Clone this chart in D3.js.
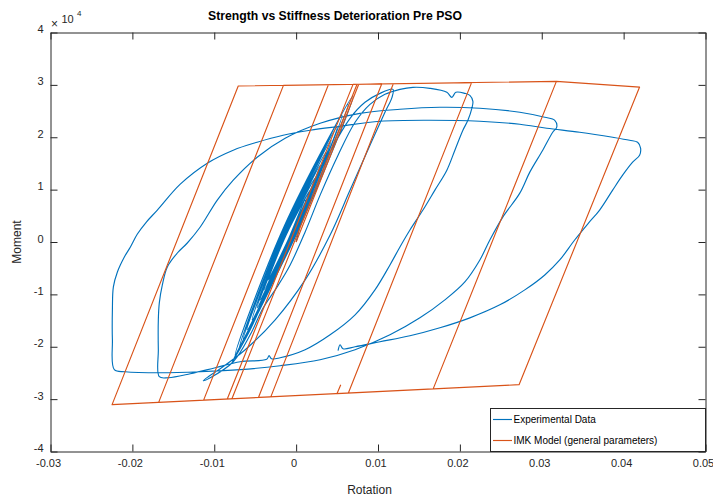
<!DOCTYPE html>
<html><head><meta charset="utf-8">
<script src="https://cdn.jsdelivr.net/npm/d3@7"></script>
<style>
body{margin:0;background:#fff}
text{font-family:"Liberation Sans",Arial,Helvetica,sans-serif}
</style>
</head><body>
<svg id="c" width="713" height="498"></svg>
<script>
// ---------- tick values ----------
const xTicks = [-0.03,-0.02,-0.01,0,0.01,0.02,0.03,0.04,0.05];
const yTicks = [-40000,-30000,-20000,-10000,0,10000,20000,30000,40000];
const seriesNames = ["Experimental Data","IMK Model (general parameters)"];

// ---------- Experimental data [rotation, moment] ----------
const expElastic = [
 [0,0],[0.00110,8000],[-0.00098,380],[-0.00341,-7240],[-0.00122,1330],[0.00171,9910],
 [-0.00098,380],[-0.00390,-9140],[-0.00127,1520],[0.00232,12190],[-0.00082,570],[-0.00439,-11050],
 [-0.00118,1810],[0.00293,14670],[-0.00067,1050],[-0.00476,-12570],[-0.00117,2290],[0.00366,17150],
 [-0.00052,1140],[-0.00537,-14860],[-0.00129,2290],[0.00427,19430],[-0.00035,1330],[-0.00598,-16760],
 [-0.00133,2570],[0.00500,21910],[-0.00015,1620],[-0.00646,-18670],[-0.00128,2760],[0.00561,24190],
 [-0.00006,1910],[-0.00695,-20380],[-0.00134,2950],[0.00634,26290],[0.00017,2290],[-0.00744,-21720],
 [-0.00144,3050],[0.00695,27810],[0.00034,2480],[-0.00780,-22860]
];
const expCycle1 = [
 [-0.00561,-16760],[-0.00317,-8190],[-0.00073,380],[0.00171,8950],[0.00415,17150],[0.00659,23620],
 [0.00841,26670],[0.01024,28380],[0.01183,29150],[0.01171,27620],[0.01085,24770],[0.00902,18480],
 [0.00659,9910],[0.00415,1330],[0.00110,-7240],[-0.00256,-14860],[-0.00622,-20570],[-0.00927,-24190],
 [-0.01073,-25720],[-0.01134,-26480]
];
const expCycle2 = [
 [-0.01049,-25910],[-0.00768,-22860],[-0.00561,-17720],[-0.00402,-12570],[-0.00232,-8570],[-0.00073,-4380],
 [0.00110,1910],[0.00293,8950],[0.00512,16570],[0.00720,22860],[0.00902,26290],[0.01085,28190],
 [0.01268,29150],[0.01427,29530],[0.01634,29340],[0.01841,28580],[0.01902,27620],[0.01951,28580],
 [0.02061,28380],[0.02122,28000],[0.02159,26860],[0.02146,25530],[0.02098,23240],[0.02037,21340],
 [0.01939,17530],[0.01841,13720],[0.01695,9910],[0.01549,6100],[0.01390,2290],[0.01268,-950],
 [0.01146,-4380],[0.00963,-9140],[0.00720,-13910],[0.00415,-17720],[0.00110,-20570],[-0.00195,-22100],
 [-0.00300,-22300],[-0.00330,-21700],[-0.00360,-22400],
 [-0.00683,-22860],[-0.00988,-24000],[-0.01293,-25150],[-0.01561,-25910],[-0.01671,-25720]
];
const expCycle3 = [
 [-0.01683,-20570],[-0.01683,-14860],[-0.01671,-11620],[-0.01634,-8190],[-0.01573,-4760],[-0.01451,-2100],
 [-0.01329,-190],[-0.01171,2860],[-0.00963,8000],[-0.00768,11810],[-0.00476,16190],[-0.00134,19810],
 [0.00293,22670],[0.00780,24570],[0.01268,25340],[0.01756,25720],[0.02244,25530],[0.02732,24770],
 [0.03037,23810],[0.03159,23240],[0.03183,21910],[0.03134,20960],[0.03012,17530],[0.02854,13340],
 [0.02732,9330],[0.02524,4760],[0.02366,380],[0.02244,-3430],[0.02061,-7620],[0.01817,-11050],
 [0.01512,-14480],[0.01146,-17720],[0.00720,-20570],[0.00293,-22480],[-0.00195,-23620],[-0.00683,-24380],
 [-0.01171,-24770],[-0.01659,-24960],[-0.02085,-24770],[-0.02220,-24380]
];
const expCycle4 = [
 [-0.02244,-18670],[-0.02244,-12950],[-0.02232,-8570],[-0.02183,-5720],[-0.02098,-2860],[-0.02024,-950],
 [-0.01939,1520],[-0.01829,3810],[-0.01695,6100],[-0.01415,11050],[-0.01085,15050],[-0.00768,17530],
 [-0.00476,19050],[-0.00159,20380],[0.00171,21340],[0.00537,22100],[0.01024,23050],[0.01634,23240],
 [0.02244,23050],[0.02732,22480],[0.03061,21720],[0.03463,20960],[0.03866,20000],[0.04073,19430],
 [0.04171,19050],[0.04207,17910],[0.04195,16570],[0.04110,15240],[0.03988,12760],[0.03866,9910],
 [0.03707,6100],[0.03561,3430],[0.03402,380],[0.03220,-3430],[0.03037,-6290],[0.02793,-9140],
 [0.02488,-12000],[0.02122,-14480],[0.01756,-16380],[0.01390,-17910],[0.01024,-19050],[0.00720,-20000],
 [0.00573,-20380],[0.00537,-19620],[0.00512,-20760]
];

// ---------- IMK model vertices [rotation, moment] ----------
const imkModel = [
 [0,0],[0.00765,30117],[0.01045,30181],[-0.00460,-29680],[-0.00784,-29928],[0.00744,30112],
 [0.01187,30214],[-0.00309,-29564],[-0.00841,-29972],[0.00695,30101],[0.01187,30214],[-0.00309,-29564],
 [-0.01130,-30193],[0.00394,30032],[0.02143,30433],[0.00638,-28838],[-0.01679,-30614],[-0.00155,29906],
 [0.03179,30670],[0.01674,-28044],[-0.02248,-31050],[-0.00707,29780],[0.03179,30670],[0.04195,29580],
 [0.02723,-27240],[0.00500,-28944],[0.00545,-27240]
];

const expData = [].concat(expElastic, expCycle1, expCycle2, expCycle3, expCycle4);

// ---------- drawing ----------
const W = 713, H = 498;
const svg = d3.select("#c");
svg.append("rect").attr("width",W).attr("height",H).attr("fill","#fff");

const x = d3.scaleLinear().domain([-0.03,0.05]).range([50.5,705.5]);
const y = d3.scaleLinear().domain([-40000,40000]).range([451.5,32.5]);

svg.append("clipPath").attr("id","clip").append("rect")
  .attr("x",50.5).attr("y",32.5).attr("width",655).attr("height",419);

const plot = svg.append("g").attr("clip-path","url(#clip)");
const blueLine = d3.line().x(d=>x(d[0])).y(d=>y(d[1])).curve(d3.curveCatmullRom.alpha(0.5));
const redLine = d3.line().x(d=>x(d[0])).y(d=>y(d[1]));

plot.append("path").datum(expData).attr("d",blueLine)
  .attr("fill","none").attr("stroke","#0072BD").attr("stroke-width",1.15)
  .attr("stroke-linejoin","round");
plot.append("path").datum(imkModel).attr("d",redLine)
  .attr("fill","none").attr("stroke","#D95319").attr("stroke-width",1.15)
  .attr("stroke-linejoin","round");

const axCol = "#262626";
const fmtX = d => d===0 ? "0" : String(+d.toFixed(2));
const fmtY = d => String(d/1e4);

function styleAxis(g){
  g.attr("font-size",11).attr("font-family",'"Liberation Sans",Arial,sans-serif');
  g.select(".domain").attr("stroke",axCol);
  g.selectAll(".tick line").attr("stroke",axCol);
  g.selectAll(".tick text").attr("fill",axCol);
}
const gx = svg.append("g").attr("transform","translate(0,451.5)")
  .call(d3.axisBottom(x).tickValues(xTicks).tickSize(-7).tickSizeOuter(0).tickPadding(8).tickFormat(fmtX));
styleAxis(gx); gx.selectAll(".tick text").attr("dx",-2.5);
const gxt = svg.append("g").attr("transform","translate(0,32.5)")
  .call(d3.axisTop(x).tickValues(xTicks).tickSize(-7).tickSizeOuter(0).tickFormat(""));
styleAxis(gxt);
const gy = svg.append("g").attr("transform","translate(50.5,0)")
  .call(d3.axisLeft(y).tickValues(yTicks).tickSize(-7).tickSizeOuter(0).tickPadding(7).tickFormat(fmtY));
styleAxis(gy); gy.selectAll(".tick text").attr("y",-3.5);
const gyr = svg.append("g").attr("transform","translate(705.5,0)")
  .call(d3.axisRight(y).tickValues(yTicks).tickSize(-7).tickSizeOuter(0).tickFormat(""));
styleAxis(gyr);

// exponent label
svg.append("text").attr("x",51).attr("y",27.5).attr("font-size",12).attr("fill",axCol).text("\u00D7");
svg.append("text").attr("x",61.5).attr("y",23).attr("font-size",11).attr("fill",axCol).text("10");
svg.append("text").attr("x",77).attr("y",15.5).attr("font-size",8).attr("fill",axCol).text("4");

// title & labels
svg.append("text").attr("x",335).attr("y",20).attr("text-anchor","middle")
  .attr("font-size",13).attr("font-weight","bold").attr("fill","#000")
  .attr("textLength",254).attr("lengthAdjust","spacingAndGlyphs")
  .text("Strength vs Stiffness Deterioration Pre PSO");
svg.append("text").attr("x",369.5).attr("y",494).attr("text-anchor","middle")
  .attr("font-size",12).attr("fill",axCol).text("Rotation");
svg.append("text").attr("transform","translate(21,242) rotate(-90)").attr("text-anchor","middle")
  .attr("font-size",12).attr("fill",axCol).text("Moment");

// legend
const lg = svg.append("g");
lg.append("rect").attr("x",490.5).attr("y",408.5).attr("width",215).attr("height",43)
  .attr("fill","#fff").attr("stroke",axCol).attr("stroke-width",1);
const lgColors = ["#0072BD","#D95319"];
seriesNames.forEach((n,i)=>{
  const yy = 419.5 + i*21;
  lg.append("line").attr("x1",493).attr("x2",512).attr("y1",yy).attr("y2",yy)
    .attr("stroke",lgColors[i]).attr("stroke-width",1.15);
  lg.append("text").attr("x",513.5).attr("y",yy+3.5).attr("font-size",10).attr("fill","#000").text(n);
});
</script>
</body></html>
